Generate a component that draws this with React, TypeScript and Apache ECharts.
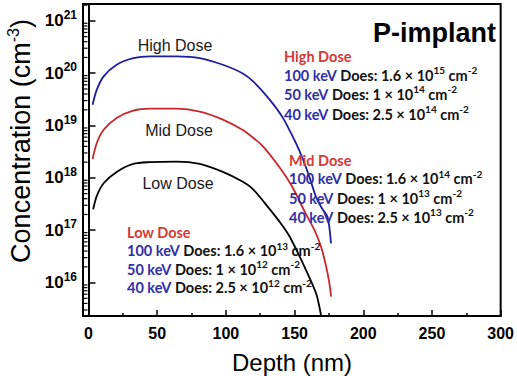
import React, { useEffect, useRef } from 'react';
import * as echarts from 'echarts';

const highDepth = [3, 6, 11, 20.5, 32.6, 44.7, 64, 81, 97.8, 112, 120, 132, 141.5, 151, 156, 161, 165.7, 170, 174, 176.5];
const highConc = [2.5e19, 4.8e19, 8.7e19, 1.45e20, 1.94e20, 2.1e20, 2.1e20, 1.95e20, 1.45e20, 1.0e20, 6.9e19, 3.1e19, 1.4e19, 4.6e18, 2.3e18, 1.0e18, 4.3e17, 2.6e17, 1.8e17, 5.6e16];

const midDepth = [3, 6, 11, 20.5, 32.6, 44.7, 64, 81, 97.8, 112, 120, 127, 139, 148, 158, 164.5, 169.3, 172.5, 175, 176.6];
const midConc = [2.3e18, 4.6e18, 8.3e18, 1.4e19, 1.93e19, 2.1e19, 2.1e19, 1.85e19, 1.3e19, 8.3e18, 5.8e18, 4.0e18, 1.6e18, 7e17, 2.1e17, 1.0e17, 4.8e16, 2.3e16, 1.1e16, 5.4e15];

const lowDepth = [3.4, 6, 11, 20.5, 32.6, 44.7, 64, 81, 97.8, 112, 120, 132, 140, 146.4, 158.5, 165.7, 168, 169.5];
const lowConc = [2.5e17, 4.5e17, 7.9e17, 1.3e18, 1.85e18, 2.0e18, 2.05e18, 1.85e18, 1.3e18, 8.5e17, 6e17, 2.5e17, 1.35e17, 7.6e16, 1.7e16, 6.2e15, 3.5e15, 2.2e15];

const xMin = -4;
const xMax = 300;
const yMin = 2.3e15;
const yMax = 2.1e21;
const yMinorTicks = [
  3e15, 4e15, 5e15, 6e15, 7e15, 8e15, 9e15,
  2e16, 3e16, 4e16, 5e16, 6e16, 7e16, 8e16, 9e16,
  2e17, 3e17, 4e17, 5e17, 6e17, 7e17, 8e17, 9e17,
  2e18, 3e18, 4e18, 5e18, 6e18, 7e18, 8e18, 9e18,
  2e19, 3e19, 4e19, 5e19, 6e19, 7e19, 8e19, 9e19,
  2e20, 3e20, 4e20, 5e20, 6e20, 7e20, 8e20, 9e20,
  2e21,
];

const highLines = [['100 keV', '1.6', '15'], ['50 keV', '1', '14'], ['40 keV', '2.5', '14']];
const midLines = [['100 keV', '1.6', '14'], ['50 keV', '1', '13'], ['40 keV', '2.5', '13']];
const lowLines = [['100 keV', '1.6', '13'], ['50 keV', '1', '12'], ['40 keV', '2.5', '12']];

const BLUE = '#1c1c9e';
const RED = '#c8262a';
const ANN_RED = '#d23a36';
const ANN_BLUE = '#2f2fa8';
const ANN_FONT = 'Lato, "Open Sans", sans-serif';
const ARIAL = '"Liberation Sans", Arial, sans-serif';
const AFS = 14.5;

const annRich = {
  k: { fontFamily: ANN_FONT, fontWeight: 'bold', fontSize: AFS, fill: ANN_BLUE, color: ANN_BLUE },
  d: { fontFamily: ANN_FONT, fontWeight: 'bold', fontSize: AFS, fill: '#111', color: '#111' },
  s: { fontFamily: ANN_FONT, fontWeight: 'bold', fontSize: 10, fill: '#111', color: '#111', padding: [0, 0, 10, 0] },
};

function group(title: string, lines: string[][], x: number, ys: number[]) {
  const out: any[] = [
    {
      type: 'text', x, y: ys[0], z: 10,
      style: { text: title, fill: ANN_RED, fontFamily: ANN_FONT, fontWeight: 'bold', fontSize: AFS, align: 'left', verticalAlign: 'middle' },
    },
  ];
  lines.forEach((l, i) => {
    out.push({
      type: 'text', x, y: ys[i + 1], z: 10,
      style: {
        text: `{k|${l[0]}}{d| Does: ${l[1]} × 10}{s|${l[2]}}{d| cm}{s|-2}`,
        rich: annRich, align: 'left', verticalAlign: 'middle',
        fontFamily: ANN_FONT, fontWeight: 'bold', fontSize: AFS, fill: '#111',
      },
    });
  });
  return out;
}

export default function App() {
  const ref = useRef<HTMLDivElement>(null);
  useEffect(() => {
    const chart = echarts.init(ref.current!, null, { renderer: 'svg' });
    const mk = (d: number[], c: number[]) => d.map((v, i) => [v, c[i]]);
    chart.setOption({
      animation: false,
      backgroundColor: '#fff',
      grid: { left: 83, right: 15, top: 4, bottom: 60, show: true, borderColor: '#000', borderWidth: 2, backgroundColor: 'transparent' },
      xAxis: {
        type: 'value', min: xMin, max: xMax, splitNumber: 6,
        axisLine: { lineStyle: { color: '#000', width: 2 } },
        axisTick: { inside: true, length: 6, lineStyle: { color: '#000', width: 1.5 } },
        minorTick: { show: true, splitNumber: 2, length: 3, lineStyle: { color: '#000', width: 1.5 } },
        splitLine: { show: false },
        axisLabel: { showMinLabel: false, margin: 9, color: '#000', fontFamily: ARIAL, fontWeight: 'bold', fontSize: 16 },
      },
      yAxis: {
        type: 'log', logBase: 10, min: yMin, max: yMax,
        axisLine: { lineStyle: { color: '#000', width: 2 } },
        axisTick: { inside: true, length: 7, lineStyle: { color: '#000', width: 1.5 } },
        splitLine: { show: false },
        axisLabel: {
          showMinLabel: false, showMaxLabel: false, margin: 6,
          formatter: (v: number) => `{b|10}{s|${Math.round(Math.log10(v))}}`,
          rich: {
            b: { fontFamily: ARIAL, fontWeight: 'bold', fontSize: 17, color: '#000' },
            s: { fontFamily: ARIAL, fontWeight: 'bold', fontSize: 12, color: '#000', padding: [0, 0, 12, 0] },
          },
        },
      },
      series: [
        { type: 'line', data: mk(highDepth, highConc), showSymbol: false, smooth: 0.3, color: BLUE, lineStyle: { color: BLUE, width: 1.8 } },
        { type: 'line', data: mk(midDepth, midConc), showSymbol: false, smooth: 0.3, color: RED, lineStyle: { color: RED, width: 1.8 } },
        { type: 'line', data: mk(lowDepth, lowConc), showSymbol: false, smooth: 0.3, color: '#000', lineStyle: { color: '#000', width: 1.8 } },
        {
          type: 'custom', silent: true, clip: false, z: 5,
          data: yMinorTicks.map((v) => [xMin, v]),
          renderItem: (_p: any, api: any) => {
            const pt = api.coord([api.value(0), api.value(1)]);
            return { type: 'line', shape: { x1: pt[0], y1: pt[1], x2: pt[0] + 4.5, y2: pt[1] }, style: { stroke: '#000', lineWidth: 1.2 } };
          },
        },
      ],
      graphic: [
        { type: 'text', x: 175, y: 45, style: { text: 'High Dose', fill: '#1a1a1a', fontFamily: ARIAL, fontSize: 16, align: 'center', verticalAlign: 'middle' } },
        { type: 'text', x: 179, y: 130, style: { text: 'Mid Dose', fill: '#1a1a1a', fontFamily: ARIAL, fontSize: 16, align: 'center', verticalAlign: 'middle' } },
        { type: 'text', x: 178, y: 183, style: { text: 'Low Dose', fill: '#1a1a1a', fontFamily: ARIAL, fontSize: 16, align: 'center', verticalAlign: 'middle' } },
        { type: 'text', x: 373, y: 33, style: { text: 'P-implant', fill: '#000', fontFamily: ARIAL, fontWeight: 'bold', fontSize: 27, align: 'left', verticalAlign: 'middle' } },
        { type: 'text', x: 292, y: 362, style: { text: 'Depth (nm)', fill: '#000', fontFamily: ARIAL, fontSize: 24, align: 'center', verticalAlign: 'middle' } },
        {
          type: 'text', x: 21, y: 141, rotation: Math.PI / 2,
          style: {
            text: '{t|Concentration (cm}{u|-3}{t|)}', align: 'center', verticalAlign: 'middle',
            rich: {
              t: { fontFamily: ARIAL, fontSize: 27, fill: '#000', color: '#000' },
              u: { fontFamily: ARIAL, fontSize: 16, fill: '#000', color: '#000', padding: [0, 0, 16, 0] },
            },
          },
        },
        ...group('High Dose', highLines, 284, [56, 75, 94, 114]),
        ...group('Mid Dose', midLines, 289, [160, 178.5, 198, 217]),
        ...group('Low Dose', lowLines, 127, [232, 250.5, 269, 287.5]),
      ],
    });
    return () => chart.dispose();
  }, []);
  return <div ref={ref} style={{ position: 'fixed', left: 0, top: 0, width: 517, height: 376, background: '#fff' }} />;
}
